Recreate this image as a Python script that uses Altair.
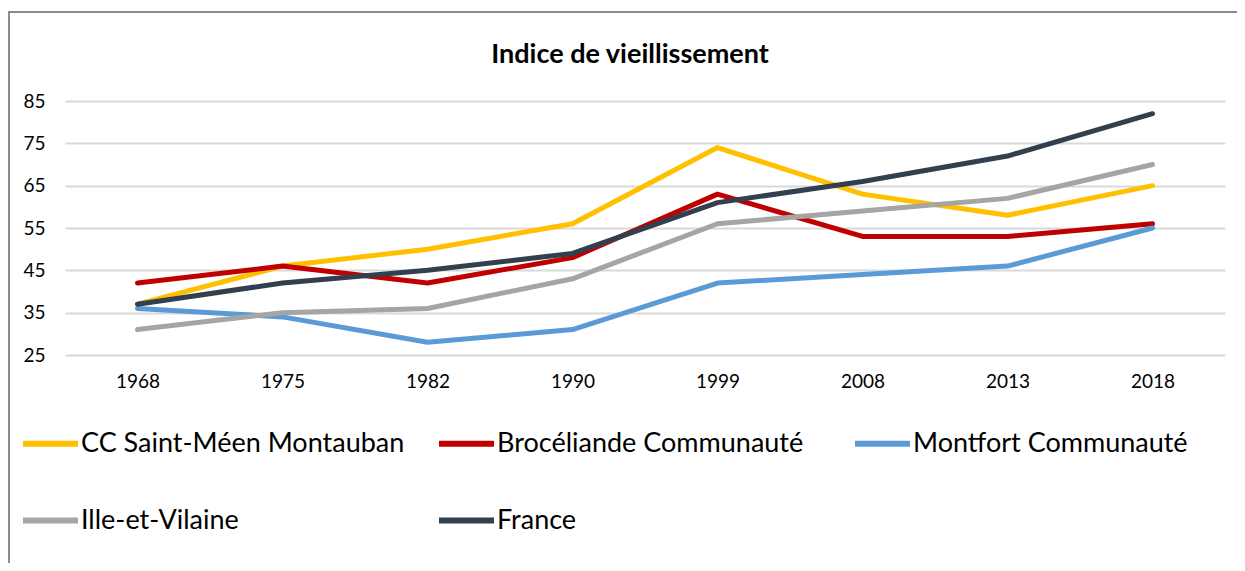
import altair as alt
import pandas as pd

years = ["1968", "1975", "1982", "1990", "1999", "2008", "2013", "2018"]
series_names = ["CC Saint-Méen Montauban", "Brocéliande Communauté", "Montfort Communauté",
                "Ille-et-Vilaine", "France"]
saint_meen = [37, 46, 50, 56, 74, 63, 58, 65]
broceliande = [42, 46, 42, 48, 63, 53, 53, 56]
montfort = [36, 34, 28, 31, 42, 44, 46, 55]
ille_et_vilaine = [31, 35, 36, 43, 56, 59, 62, 70]
france = [37, 42, 45, 49, 61, 66, 72, 82]
colors = ["#FFC000", "#C00000", "#5B9BD5", "#A5A5A5", "#323F4F"]
y_ticks = [25, 35, 45, 55, 65, 75, 85]

rows = []
for name, vals in zip(series_names, [saint_meen, broceliande, montfort, ille_et_vilaine, france]):
    for yr, v in zip(years, vals):
        rows.append({"Année": yr, "Série": name, "Indice": v})
df = pd.DataFrame(rows)

FONT = "Lato"

lines = alt.Chart(df).mark_line(strokeWidth=5, strokeCap="round", strokeJoin="round").encode(
    x=alt.X("Année:O", sort=years, title=None,
            axis=alt.Axis(labelAngle=0, ticks=False, domain=False, grid=False, labelPadding=17,
                          labelFontSize=19, labelColor="#000000", labelFont=FONT)),
    y=alt.Y("Indice:Q", title=None,
            scale=alt.Scale(domain=[25, 85], nice=False, zero=False),
            axis=alt.Axis(values=y_ticks, ticks=False, domain=False, grid=True, labelPadding=20,
                          labelFontSize=19, labelColor="#000000", labelFont=FONT,
                          gridColor="#D9D9D9", gridWidth=2)),
    color=alt.Color("Série:N", sort=series_names,
                    scale=alt.Scale(domain=series_names, range=colors),
                    legend=alt.Legend(title=None, orient="none", legendX=-45, legendY=312,
                                      columns=3, direction="horizontal", gridAlign="all",
                                      symbolType="stroke", symbolSize=3025, symbolStrokeWidth=6,
                                      labelFontSize=27, labelFont=FONT, labelColor="#000000",
                                      labelOffset=0, columnPadding=22, rowPadding=33,
                                      labelLimit=0, padding=0)),
    order=alt.Order("Année:O"),
)

frame = alt.Chart(pd.DataFrame({"f": [0]})).mark_rect(
    fill=None, stroke="#8C8C8C", strokeWidth=2
).encode(
    x=alt.value(-56), x2=alt.value(1300), y=alt.value(-89), y2=alt.value(700)
)

chart = alt.layer(frame, lines).properties(
    width=1160,
    height=254,
    title=alt.Title("Indice de vieillissement", font=FONT, fontSize=27, fontWeight="bold",
                    color="#000000", anchor="middle", frame="group", dx=-15, offset=0, dy=58),
    autosize=alt.AutoSizeParams(type="none"),
    padding={"left": 57, "top": 93, "right": 12, "bottom": 208},
).configure_view(stroke=None)

chart.save("out.html", embed_options={"renderer": "svg", "actions": False})
